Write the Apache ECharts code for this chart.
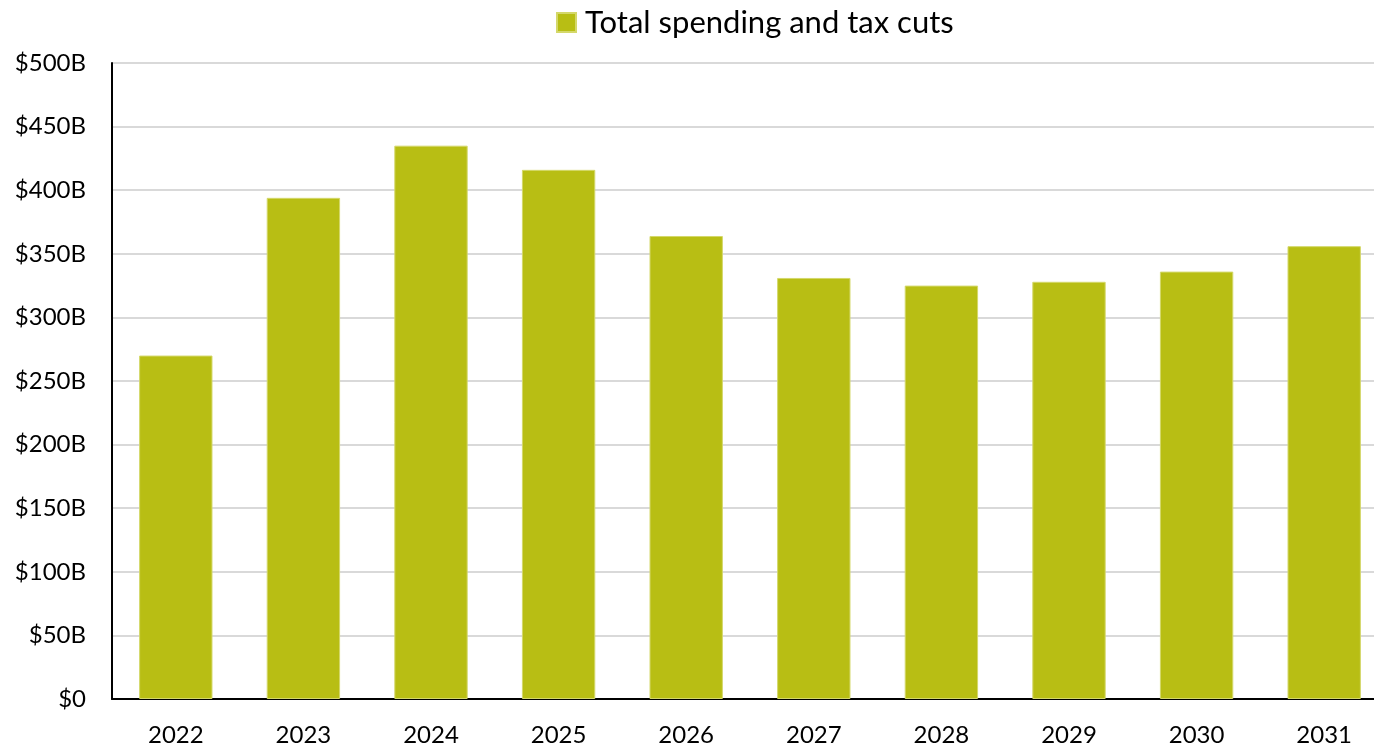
<!DOCTYPE html>
<html>
<head>
<meta charset="utf-8">
<script src="https://cdn.jsdelivr.net/npm/echarts@6/dist/echarts.min.js"></script>
<style>
  html, body { margin: 0; padding: 0; background: #ffffff; }
  #chart { width: 1374px; height: 748px; }
</style>
</head>
<body>
<div id="chart"></div>
<script>
// Annual totals, billions of dollars
const years = ['2022', '2023', '2024', '2025', '2026', '2027', '2028', '2029', '2030', '2031'];
const totalSpendingAndTaxCuts = [270, 394, 435, 416, 364, 331, 325, 328, 336, 356];
const seriesName = 'Total spending and tax cuts';

const chart = echarts.init(document.getElementById('chart'));
const FONT = 'Lato, "Open Sans", sans-serif';

chart.setOption({
  animation: false,
  backgroundColor: '#ffffff',
  legend: {
    data: [seriesName],
    top: 7,
    left: 556,
    padding: 0,
    icon: 'rect',
    itemWidth: 19,
    itemHeight: 19,
    itemGap: 9,
    textStyle: { fontFamily: FONT, fontSize: 31, color: '#000000', padding: [0, 0, 0, 4] }
  },
  grid: { left: 112, top: 63, width: 1276, height: 636, outerBoundsMode: 'none', containLabel: false },
  xAxis: {
    type: 'category',
    data: years,
    axisLine: { lineStyle: { color: '#000000', width: 2 } },
    axisTick: { show: false },
    axisLabel: { fontFamily: FONT, fontSize: 24, color: '#000000', margin: 24 }
  },
  yAxis: {
    type: 'value',
    min: 0,
    max: 500,
    interval: 50,
    axisLine: { show: true, lineStyle: { color: '#000000', width: 2 } },
    axisTick: { show: false },
    splitLine: { lineStyle: { color: '#d9d9d9', width: 2 } },
    axisLabel: {
      fontFamily: FONT, fontSize: 24, color: '#000000', margin: 26,
      formatter: v => v === 0 ? '$0' : '$' + v + 'B'
    }
  },
  series: [{
    name: seriesName,
    type: 'bar',
    data: totalSpendingAndTaxCuts,
    barWidth: '57.5%',
    itemStyle: { color: '#b8be14', borderColor: '#d4d86a', borderWidth: 1 }
  }]
});
</script>
</body>
</html>
